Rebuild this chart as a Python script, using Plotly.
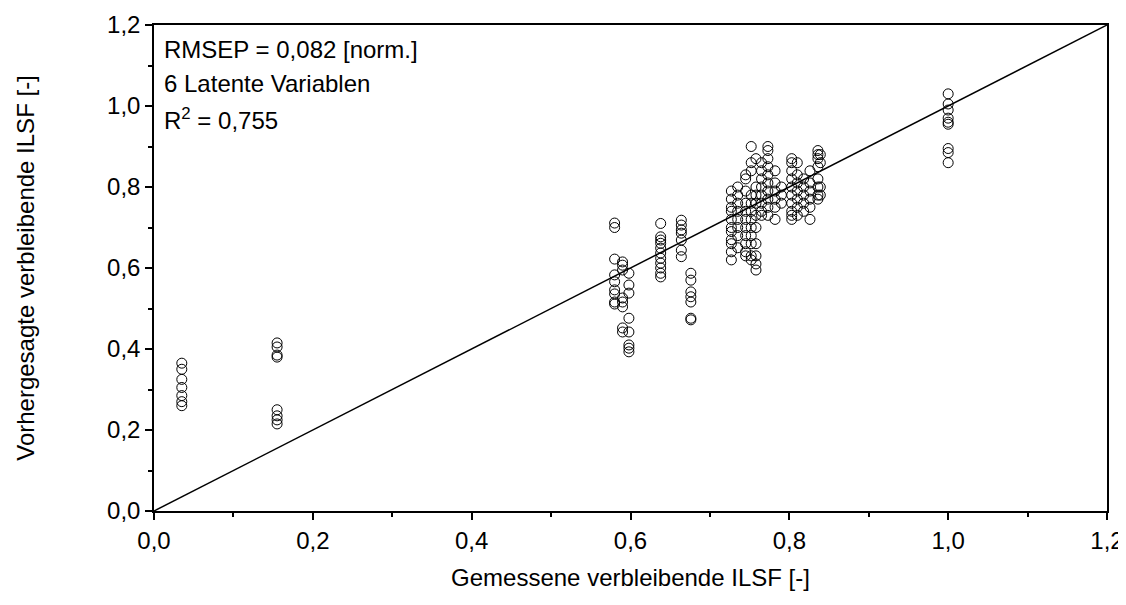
import plotly.graph_objects as go

# Measured x per column and predicted y values
col_x = [0.035, 0.155, 0.58, 0.59, 0.598, 0.638, 0.664, 0.676,
         0.727, 0.735, 0.745, 0.752, 0.758, 0.765, 0.773, 0.782, 0.79,
         0.803, 0.81, 0.818, 0.826, 0.836, 0.839, 1.0]
col_y = [
    [0.365, 0.35, 0.325, 0.305, 0.285, 0.27, 0.26],
    [0.415, 0.405, 0.385, 0.38, 0.25, 0.235, 0.225, 0.215],
    [0.711, 0.70, 0.622, 0.583, 0.566, 0.546, 0.536, 0.516, 0.511],
    [0.615, 0.607, 0.595, 0.526, 0.516, 0.504, 0.452, 0.442],
    [0.587, 0.558, 0.538, 0.476, 0.442, 0.41, 0.402, 0.393],
    [0.71, 0.677, 0.669, 0.661, 0.649, 0.637, 0.624, 0.612, 0.60, 0.587, 0.578],
    [0.718, 0.706, 0.694, 0.686, 0.669, 0.644, 0.628],
    [0.587, 0.570, 0.541, 0.529, 0.516, 0.476, 0.472],
    [0.79, 0.77, 0.75, 0.74, 0.72, 0.70, 0.69, 0.67, 0.66, 0.64, 0.62],
    [0.80, 0.78, 0.76, 0.74, 0.72, 0.70, 0.68, 0.65],
    [0.83, 0.82, 0.79, 0.76, 0.74, 0.72, 0.70, 0.68, 0.66, 0.64, 0.63],
    [0.90, 0.86, 0.84, 0.78, 0.76, 0.74, 0.72, 0.70, 0.68, 0.66, 0.63, 0.62],
    [0.87, 0.80, 0.78, 0.76, 0.73, 0.70, 0.66, 0.63, 0.61, 0.595],
    [0.86, 0.84, 0.82, 0.80, 0.78, 0.76, 0.74, 0.73],
    [0.90, 0.89, 0.87, 0.85, 0.83, 0.81, 0.79, 0.77, 0.75, 0.73],
    [0.84, 0.81, 0.79, 0.77, 0.75, 0.72],
    [0.80, 0.78, 0.76],
    [0.87, 0.86, 0.84, 0.82, 0.80, 0.78, 0.76, 0.74, 0.73, 0.72],
    [0.86, 0.83, 0.81, 0.79, 0.77, 0.75, 0.73],
    [0.82, 0.80, 0.78, 0.76, 0.74],
    [0.84, 0.81, 0.79, 0.77, 0.75, 0.72],
    [0.89, 0.88, 0.87, 0.85, 0.82, 0.80, 0.78, 0.77],
    [0.88, 0.86, 0.80, 0.78],
    [1.03, 1.005, 0.99, 0.97, 0.96, 0.955, 0.895, 0.885, 0.86],
]
diag = [0.0, 1.2]
tick_vals = [0.0, 0.2, 0.4, 0.6, 0.8, 1.0, 1.2]
tick_text = ["0,0", "0,2", "0,4", "0,6", "0,8", "1,0", "1,2"]

xs, ys = [], []
for x, yl in zip(col_x, col_y):
    for y in yl:
        xs.append(x)
        ys.append(y)

fig = go.Figure()
fig.add_trace(go.Scatter(x=xs, y=ys, mode="markers",
                         marker=dict(symbol="circle-open", size=10,
                                     color="black", line=dict(width=1, color="black")),
                         showlegend=False))
fig.add_trace(go.Scatter(x=diag, y=diag, mode="lines",
                         line=dict(color="black", width=1.5), showlegend=False))

font = dict(family="Liberation Sans, Arial, sans-serif", size=24, color="black")
axis_common = dict(range=[0, 1.2], tickvals=tick_vals, ticktext=tick_text,
                   ticks="outside", ticklen=7, tickwidth=1.5, tickcolor="black",
                   showline=True, linecolor="black", linewidth=1.5, mirror=True,
                   showgrid=False, zeroline=False, automargin=False,
                   minor=dict(dtick=0.1, ticks="outside", ticklen=4, tickwidth=1.5,
                              tickcolor="black", showgrid=False),
                   tickfont=font)
# page body has an 8px margin, so the figure is sized and offset to compensate
fig.update_layout(
    width=1118, height=597,
    margin=dict(l=146, r=19, t=17, b=94),
    plot_bgcolor="white", paper_bgcolor="white",
    font=font,
    xaxis=dict(axis_common, title=dict(text="Gemessene verbleibende ILSF [-]",
                                       font=font, standoff=17)),
    yaxis=dict(axis_common, title=dict(text="Vorhergesagte verbleibende ILSF [-]",
                                       font=font, standoff=66)),
)
lines = ["RMSEP = 0,082 [norm.]", "6 Latente Variablen", "R<sup>2</sup> = 0,755"]
for i, t in enumerate(lines):
    fig.add_annotation(x=0.0, y=1.0, xref="paper", yref="paper",
                       xanchor="left", yanchor="top", xshift=8, yshift=-9 - i * 34,
                       text=t, showarrow=False, font=font, align="left")

fig.write_html("out.html")
